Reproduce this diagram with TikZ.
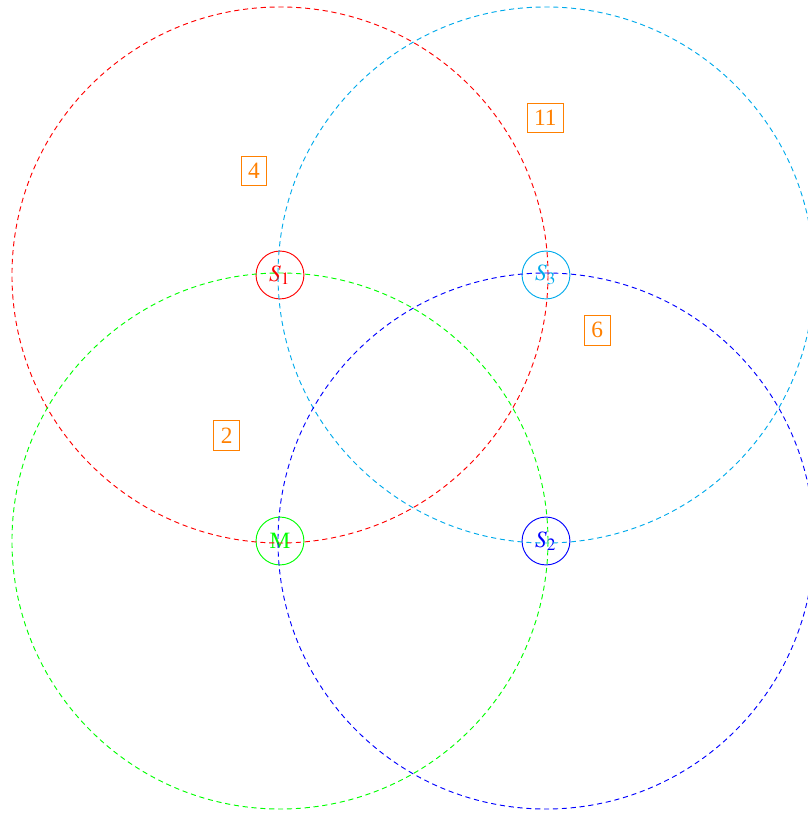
\documentclass[tikz,border=0pt]{standalone}
\usepackage{mathptmx}
\usepackage[no-math]{fontspec}
\setmainfont{Liberation Serif}
\usetikzlibrary{positioning}
\definecolor{zoneorange}{RGB}{255,128,0}
\definecolor{zonecyan}{RGB}{0,170,235}
\tikzset{station/.style={circle,draw,minimum size=0.72cm,inner sep=0pt},
  portee/.style={dashed,dash pattern=on 2.2pt off 1.6pt},
  compte/.style={draw=zoneorange,text=zoneorange,rectangle,inner sep=3pt}}

\begin{document}
\begin{tikzpicture}
\useasboundingbox (-4.21,-4.105) rectangle (7.925,8.135);

\node[station,draw=red,text=red] (S1) at (0,4) {$S_1$};
\node[station,draw=zonecyan,text=zonecyan] (S3) at (4,4) {$S_3$};
\node[station,draw=green,text=green] (M) at (0,0) {M};
\node[station,draw=blue,text=blue] (S2) at (4,0) {$S_2$};

\draw[portee,red] (S1.center) circle (4.03);
\draw[portee,zonecyan] (S3.center) circle (4.03);
\draw[portee,green] (M.center) circle (4.03);
\draw[portee,blue] (S2.center) circle (4.03);

\node[compte] (n4) at (-0.39,5.56) {4};
\node[compte] (n11) at (3.99,6.36) {11};
\node[compte] (n6) at (4.77,3.17) {6};
\node[compte] (n2) at (-0.80,1.59) {2};

\end{tikzpicture}
\end{document}
